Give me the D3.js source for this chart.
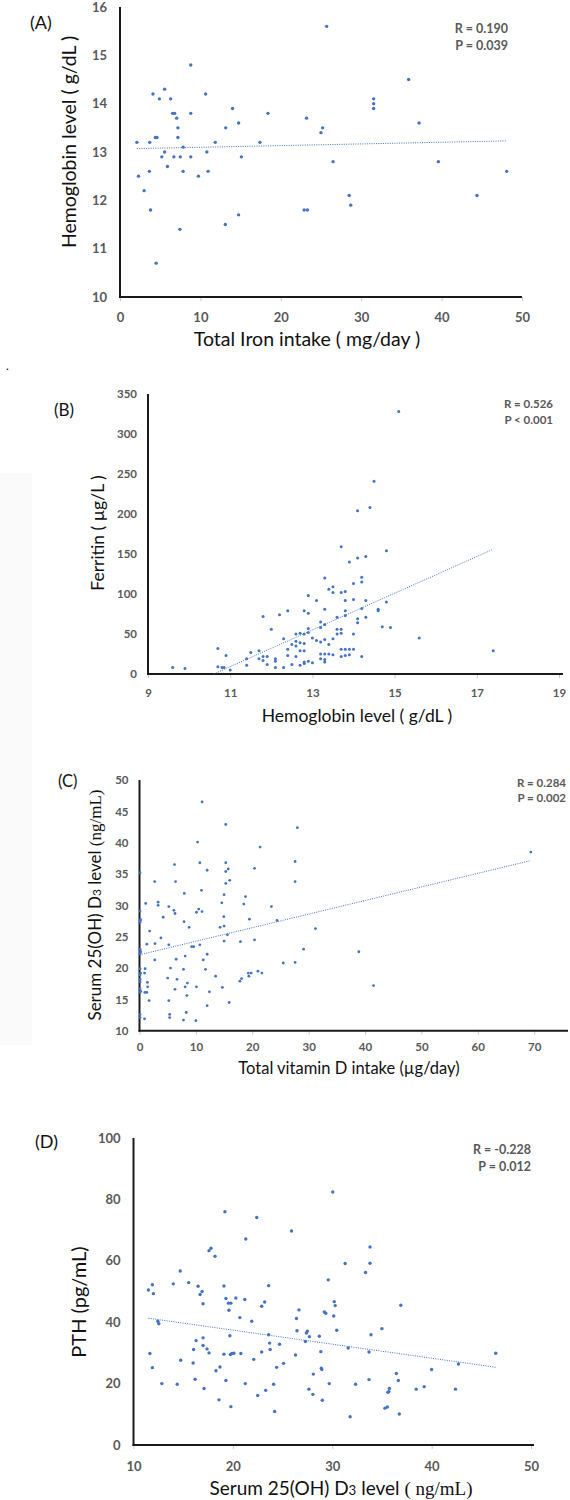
<!DOCTYPE html>
<html>
<head>
<meta charset="utf-8">
<script src="https://cdn.jsdelivr.net/npm/d3@7"></script>
<style>
  body { margin: 0; background: #fff; }
  svg { display: block; }
</style>
</head>
<body>
<svg id="chartSVG" width="570" height="1500"></svg>
<script>
/**
 * Data: [x, y] pairs
 */
// (A) total iron intake (mg/day) vs hemoglobin (g/dL)
const ironVsHb = [
  [2.1,13.2],[2.3,12.5],[3.0,12.2],[3.65,12.6],[3.7,13.2],[3.8,11.8],[4.1,14.2],[4.4,13.3],
  [4.6,13.3],[4.5,10.7],[4.9,14.1],[5.2,12.9],[5.55,14.3],[5.55,13.0],[5.9,12.7],[6.3,14.1],
  [6.55,13.8],[6.8,13.8],[6.7,12.9],[7.05,13.7],[7.2,13.5],[7.2,13.3],[7.5,12.9],[7.45,11.4],
  [7.85,13.1],[7.85,12.6],[8.8,14.8],[8.8,13.8],[8.8,12.9],[9.75,12.5],[10.65,14.2],[10.8,13.0],
  [10.95,12.6],[11.85,13.2],[13.1,11.5],[13.15,13.5],[14.0,13.9],[14.75,13.6],[14.75,11.7],
  [15.1,12.9],[17.4,13.2],[18.4,13.8],[25.7,15.6],[23.2,13.7],[25.0,13.4],[25.2,13.5],
  [26.5,12.8],[22.9,11.8],[23.3,11.8],[28.5,12.1],[28.7,11.9],[31.55,14.1],[31.55,14.0],
  [31.55,13.9],[35.9,14.5],[37.2,13.6],[39.6,12.8],[44.4,12.1],[48.1,12.6]
];
const ironTrend = [[2.1,13.07],[48.1,13.23]];
const ironTicksX = [0,10,20,30,40,50];
const hbTicksY = [10,11,12,13,14,15,16];

// (B) hemoglobin (g/dL) vs ferritin (ug/L)
const hbVsFerritin = [
  [9.6,8],[9.9,7],[10.7,32],[10.7,9],[10.8,8],[10.85,8],[10.9,23],[11.0,5],[11.4,19],[11.4,11],
  [11.5,27],[11.7,29],[11.7,19],[11.8,72],[11.8,17],[11.8,22],[11.9,22],[11.9,12],[12.0,56],
  [12.1,19],[12.1,16],[12.1,8],[12.2,74],[12.3,44],[12.3,8],[12.4,79],[12.4,31],[12.4,23],
  [12.5,37],[12.5,12],[12.6,50],[12.6,41],[12.6,35],[12.6,22],[12.7,51],[12.7,39],[12.7,29],
  [12.7,11],[12.8,79],[12.8,50],[12.8,38],[12.8,29],[12.8,15],[12.8,13],[12.9,98],[12.9,76],
  [12.9,57],[12.9,52],[12.9,16],[13.0,45],[13.0,14],[13.1,92],[13.1,42],[13.2,65],[13.2,58],
  [13.2,40],[13.2,25],[13.2,19],[13.3,120],[13.3,81],[13.3,62],[13.3,43],[13.3,25],[13.3,18],
  [13.3,15],[13.4,106],[13.4,37],[13.4,25],[13.5,109],[13.5,102],[13.5,44],[13.5,24],[13.6,71],
  [13.6,56],[13.6,50],[13.7,159],[13.7,102],[13.7,56],[13.7,51],[13.7,31],[13.7,22],[13.8,103],
  [13.8,92],[13.8,79],[13.8,73],[13.8,31],[13.8,23],[13.9,140],[13.9,31],[13.9,24],[14.0,113],
  [14.0,93],[14.0,50],[14.0,31],[14.1,145],[14.1,69],[14.1,64],[14.1,204],[14.2,121],[14.2,115],
  [14.2,82],[14.2,22],[14.3,147],[14.3,92],[14.3,71],[14.4,208],[14.5,241],[14.6,81],[14.6,79],
  [14.7,59],[14.8,154],[14.8,90],[14.9,58],[15.1,328],[15.6,45],[17.4,29]
];
const ferritinTrend = [[10.6,0],[17.4,156]];
const hbTicksX = [9,11,13,15,17,19];
const ferritinTicksY = [0,50,100,150,200,250,300,350];

// (C) total vitamin D intake (ug/day) vs serum 25(OH)D3 (ng/mL)
const vitDVs25OHD = [
  [11.1,46.5],[15.3,42.9],[28.0,42.4],[10.3,40.1],[21.4,39.3],[6.2,36.5],[10.7,36.8],[15.3,36.8],
  [15.75,35.8],[15.3,35.4],[12.0,35.6],[20.4,35.9],[27.6,37.0],[27.6,33.8],[0.1,35.2],[2.7,33.8],
  [6.4,33.8],[15.3,33.5],[16.0,34.0],[11.0,32.4],[7.95,31.9],[15.0,31.7],[18.8,31.4],[18.5,30.2],
  [1.1,30.3],[3.3,30.5],[3.3,30.0],[5.2,29.8],[6.1,29.2],[6.3,28.7],[10.5,29.4],[10.1,28.9],
  [11.1,29.0],[14.6,30.4],[14.95,28.2],[23.4,29.8],[0.1,29.1],[0.1,27.6],[0.2,27.7],[0.1,27.3],
  [4.2,28.1],[7.9,27.4],[8.8,26.5],[14.3,26.5],[15.0,26.7],[19.5,27.8],[24.4,27.6],[1.8,25.9],
  [3.8,24.8],[1.3,23.8],[2.75,23.9],[5.2,23.7],[9.25,23.4],[9.6,23.4],[10.7,23.7],[15.6,25.3],
  [15.0,24.3],[17.9,24.2],[20.4,24.5],[29.1,23.0],[31.2,26.3],[0.1,23.0],[0.2,22.6],[0.1,22.3],
  [2.7,21.3],[6.5,21.4],[8.1,21.9],[11.3,21.3],[12.0,22.2],[11.7,19.8],[5.5,20.0],[7.8,19.8],
  [0.1,19.9],[0.2,19.2],[0.1,18.9],[0.1,18.2],[1.0,19.9],[0.9,19.2],[5.0,18.4],[6.65,18.2],
  [8.5,17.6],[8.1,17.0],[6.3,16.6],[10.1,17.0],[13.5,18.7],[14.7,16.9],[12.4,16.2],[8.4,15.6],
  [17.8,17.9],[18.1,18.3],[19.3,19.2],[19.8,19.2],[19.4,18.7],[21.0,19.5],[21.7,19.2],[25.5,20.8],
  [27.6,20.9],[0.1,17.8],[0.1,16.7],[0.2,16.3],[0.1,16.1],[0.95,16.1],[1.3,16.1],[1.4,17.7],
  [1.45,17.0],[1.7,14.8],[5.2,14.8],[15.9,14.5],[12.0,14.0],[0.1,12.6],[0.1,12.1],[0.9,11.9],
  [5.35,12.6],[5.35,12.1],[8.3,12.9],[7.8,11.7],[10.0,11.6],[38.9,22.6],[41.5,17.2],[69.4,38.5]
];
const vitDTrend = [[0,22.1],[69.2,37.1]];
const vitDTicksX = [0,10,20,30,40,50,60,70];
const serumTicksY = [10,15,20,25,30,35,40,45,50];

// (D) serum 25(OH)D3 (ng/mL) vs PTH (pg/mL)
const serumVsPth = [
  [19.2,76.0],[22.4,74.1],[25.9,69.7],[21.3,67.1],[17.6,63.3],[17.8,64.1],[18.2,61.5],[14.7,56.7],
  [11.5,50.5],[11.9,52.2],[12.0,49.3],[14.0,52.5],[15.55,52.9],[16.5,51.7],[16.9,50.0],[16.7,49.0],
  [17.0,46.0],[19.1,51.8],[19.3,47.7],[19.55,46.2],[19.8,46.2],[19.6,43.9],[20.3,47.9],[21.2,47.4],
  [23.6,51.9],[22.9,45.2],[23.2,46.6],[20.7,41.5],[21.9,40.3],[12.45,40.3],[12.55,39.5],[26.65,44.0],
  [26.4,41.2],[29.2,43.3],[29.35,42.9],[29.6,53.8],[26.45,37.2],[27.4,36.5],[27.5,37.1],[27.7,35.3],
  [27.3,33.7],[28.7,35.4],[23.6,35.9],[23.7,33.2],[24.7,32.8],[23.75,31.1],[19.7,35.6],[16.3,34.0],
  [17.0,34.9],[17.0,32.4],[16.05,31.1],[17.4,31.3],[17.6,30.0],[19.1,29.6],[19.75,29.5],[19.9,29.8],
  [20.1,29.9],[20.8,29.8],[22.9,30.3],[26.3,29.3],[28.85,30.4],[11.65,29.8],[11.9,25.2],[14.75,27.6],
  [16.0,26.7],[22.1,27.9],[18.3,24.2],[18.7,25.4],[24.4,25.3],[25.1,26.6],[28.9,25.0],[28.95,24.6],
  [28.1,23.1],[12.85,20.0],[14.4,19.8],[16.2,21.4],[17.1,18.4],[19.3,21.0],[21.25,20.0],[24.1,19.8],
  [23.3,17.8],[22.5,16.1],[18.6,14.7],[19.8,12.5],[24.2,10.9],[27.65,18.2],[28.05,16.5],[29.0,14.6],
  [29.7,20.0],[30.05,82.4],[33.8,64.5],[33.8,59.2],[31.3,59.1],[33.35,56.2],[30.2,46.7],[30.3,45.4],
  [36.9,45.5],[30.15,42.0],[30.45,37.4],[35.0,37.9],[33.9,35.9],[31.6,31.6],[33.7,30.3],[46.45,29.9],
  [42.7,26.4],[40.0,24.6],[36.45,23.3],[36.65,21.0],[33.7,21.3],[32.35,19.8],[35.75,18.4],[35.7,17.4],
  [35.6,17.2],[38.45,18.2],[39.25,19.0],[42.4,18.2],[35.3,12.0],[35.55,12.4],[36.75,10.1],[31.8,9.2]
];
const pthTrend = [[11.5,41.3],[46.5,25.3]];
const serumTicksX = [10,20,30,40,50];
const pthTicksY = [0,20,40,60,80,100];

/**
 * Shared styling
 */
const dotColor = "#4472C4";
const tickColor = "#595959";
const mainFont = "Lato, 'Open Sans', sans-serif";
const serifFont = "'Liberation Serif', 'DejaVu Serif', serif";

const svg = d3.select("#chartSVG");

// faint grey strip on the left of the original figure, and a stray dot
svg.append("rect").attr("x", 0).attr("y", 473).attr("width", 32).attr("height", 572).attr("fill", "#fafafa");
svg.append("text").attr("x", 6).attr("y", 370).attr("font-size", 12).attr("font-family", mainFont).text(".");

/**
 * Panel layouts (pixel boxes, fonts, label positions)
 */
const panels = [
  {
    data: ironVsHb, trend: ironTrend, xTicks: ironTicksX, yTicks: hbTicksY,
    xDomain: [0, 50], yDomain: [10, 16],
    left: 120, right: 522, top: 7, bottom: 297, axisEnd: 522,
    tickFont: 13, yPad: 13, xTickOffset: 20, r: 1.7,
    tag: "(A)", tagX: 30, tagY: 29, tagFont: 18,
    stats: ["R = 0.190", "P = 0.039"], statX: 508, statY: [33, 50], statFont: 12.5,
    xTitle: [{ t: "Total Iron intake ( mg/day )" }], xTitleX: 307, xTitleY: 346, xTitleFont: 19.5,
    yTitle: [{ t: "Hemoglobin level ( g/dL )" }], yTitleX: 76, yTitleY: 142, yTitleFont: 19.5
  },
  {
    data: hbVsFerritin, trend: ferritinTrend, xTicks: hbTicksX, yTicks: ferritinTicksY,
    xDomain: [9, 19], yDomain: [0, 350],
    left: 148, right: 559, top: 394, bottom: 674, axisEnd: 563,
    tickFont: 11.5, yPad: 11, xTickOffset: 19, r: 1.5,
    tag: "(B)", tagX: 54, tagY: 416, tagFont: 17,
    stats: ["R = 0.526", "P < 0.001"], statX: 553, statY: [408, 424], statFont: 11.5,
    xTitle: [{ t: "Hemoglobin level ( g/dL )" }], xTitleX: 357, xTitleY: 722, xTitleFont: 17.5,
    yTitle: [{ t: "Ferritin ( µg/L )" }], yTitleX: 104, yTitleY: 533, yTitleFont: 17.5
  },
  {
    data: vitDVs25OHD, trend: vitDTrend, xTicks: vitDTicksX, yTicks: serumTicksY,
    xDomain: [0, 76], yDomain: [10, 50],
    left: 139.5, right: 568, top: 780, bottom: 1030.7, axisEnd: 568,
    tickFont: 11.5, yPad: 11, xTickOffset: 16, r: 1.4,
    tag: "(C)", tagX: 58, tagY: 787, tagFont: 16.5,
    stats: ["R = 0.284", "P = 0.002"], statX: 566, statY: [787, 802], statFont: 11.5,
    xTitle: [{ t: "Total vitamin D intake (µg/day)" }], xTitleX: 349, xTitleY: 1074, xTitleFont: 16.5,
    yTitle: [{ t: "Serum 25(OH) D" }, { t: "3", sub: true }, { t: " level " }, { t: "(ng/mL)", serif: true }],
    yTitleX: 101, yTitleY: 905, yTitleFont: 17
  },
  {
    data: serumVsPth, trend: pthTrend, xTicks: serumTicksX, yTicks: pthTicksY,
    xDomain: [10, 50], yDomain: [0, 100],
    left: 133.5, right: 531, top: 1138, bottom: 1445, axisEnd: 534,
    tickFont: 13, yPad: 13, xTickOffset: 21, r: 1.7,
    tag: "(D)", tagX: 35, tagY: 1148, tagFont: 18,
    stats: ["R = -0.228", "P = 0.012"], statX: 531, statY: [1154, 1171], statFont: 12.5,
    xTitle: [{ t: "Serum 25(OH) D" }, { t: "3", sub: true }, { t: " level " }, { t: "( ng/mL)", serif: true }],
    xTitleX: 341, xTitleY: 1495, xTitleFont: 19,
    yTitle: [{ t: "PTH (pg/mL)" }], yTitleX: 86, yTitleY: 1302, yTitleFont: 20
  }
];

// helper that writes a title made of several styled pieces
function addPieces(textSel, pieces, size) {
  pieces.forEach(p => {
    textSel.append("tspan")
      .attr("font-family", p.serif ? serifFont : mainFont)
      .attr("font-size", p.sub ? size * 0.7 : size)
      .text(p.t);
  });
}

function drawPanel(p) {
  const x = d3.scaleLinear().domain(p.xDomain).range([p.left, p.right]);
  const y = d3.scaleLinear().domain(p.yDomain).range([p.bottom, p.top]);
  const g = svg.append("g");

  // x axis ticks + labels
  const xAxis = g.append("g")
    .attr("transform", `translate(0,${p.bottom})`)
    .call(d3.axisBottom(x).tickValues(p.xTicks).tickFormat(d3.format("d")).tickSize(4).tickSizeOuter(0));
  xAxis.select(".domain").remove();
  xAxis.selectAll(".tick line").attr("stroke", "#c8c8c8");
  xAxis.selectAll(".tick text")
    .attr("y", p.xTickOffset).attr("dy", "0.35em")
    .attr("fill", tickColor).attr("font-size", p.tickFont)
    .attr("font-family", mainFont).attr("font-weight", "bold");

  // y axis labels only
  const yAxis = g.append("g")
    .attr("transform", `translate(${p.left},0)`)
    .call(d3.axisLeft(y).tickValues(p.yTicks).tickFormat(d3.format("d")).tickSize(0).tickPadding(p.yPad));
  yAxis.select(".domain").remove();
  yAxis.selectAll(".tick text")
    .attr("fill", tickColor).attr("font-size", p.tickFont)
    .attr("font-family", mainFont).attr("font-weight", "bold");

  // axis lines
  g.append("line")
    .attr("x1", p.left).attr("x2", p.left).attr("y1", y(p.yDomain[0]) + 1).attr("y2", y(p.yDomain[1]))
    .attr("stroke", "#1a1a1a").attr("stroke-width", 2);
  g.append("line")
    .attr("x1", p.left - 1).attr("x2", p.axisEnd).attr("y1", p.bottom).attr("y2", p.bottom)
    .attr("stroke", "#1a1a1a").attr("stroke-width", 2);

  // trend line (dotted)
  g.append("path")
    .datum(p.trend)
    .attr("d", d3.line().x(d => x(d[0])).y(d => y(d[1])))
    .attr("fill", "none").attr("stroke", dotColor)
    .attr("stroke-width", 1).attr("stroke-dasharray", "1,1.3");

  // dots
  g.append("g").selectAll("circle")
    .data(p.data)
    .join("circle")
    .attr("cx", d => x(d[0])).attr("cy", d => y(d[1]))
    .attr("r", p.r).attr("fill", dotColor);

  // panel tag
  g.append("text").attr("x", p.tagX).attr("y", p.tagY)
    .attr("font-family", mainFont).attr("font-size", p.tagFont).attr("fill", "#111").text(p.tag);

  // R / P stats
  p.stats.forEach((s, i) => {
    g.append("text").attr("x", p.statX).attr("y", p.statY[i])
      .attr("text-anchor", "end").attr("font-family", mainFont).attr("font-weight", "bold")
      .attr("font-size", p.statFont).attr("fill", tickColor).text(s);
  });

  // axis titles
  const xt = g.append("text").attr("x", p.xTitleX).attr("y", p.xTitleY)
    .attr("text-anchor", "middle").attr("fill", "#111");
  addPieces(xt, p.xTitle, p.xTitleFont);
  const yt = g.append("text")
    .attr("transform", `translate(${p.yTitleX},${p.yTitleY}) rotate(-90)`)
    .attr("text-anchor", "middle").attr("fill", "#111");
  addPieces(yt, p.yTitle, p.yTitleFont);
}

panels.forEach(drawPanel);
</script>
</body>
</html>
